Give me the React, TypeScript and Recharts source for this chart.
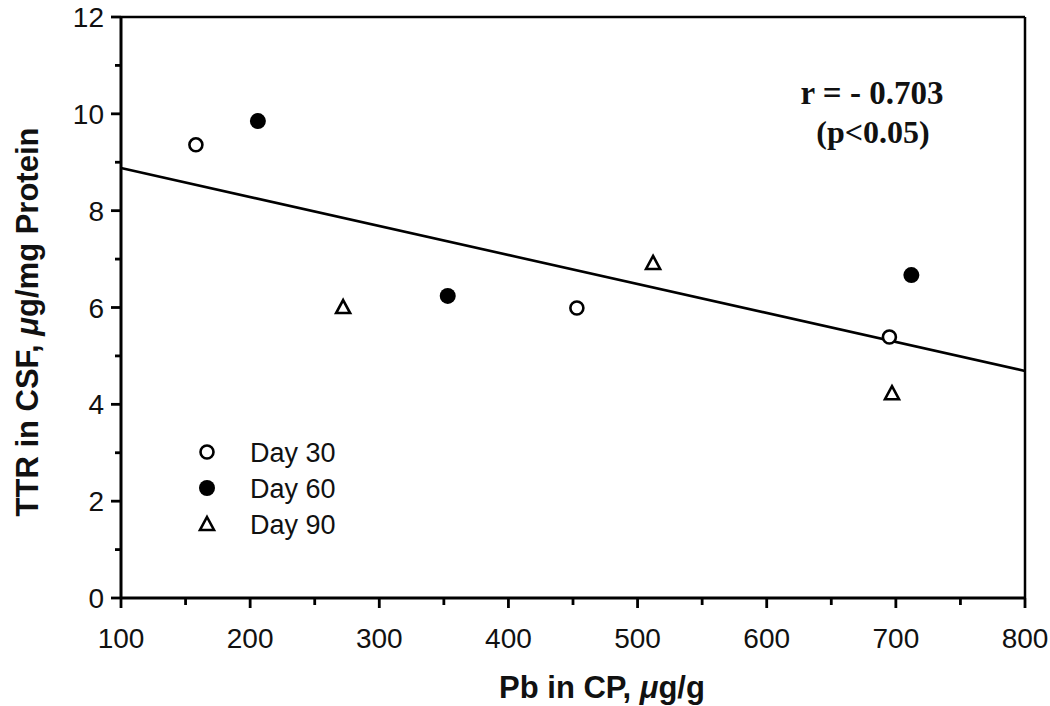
import { ScatterChart, Scatter, XAxis, YAxis, ReferenceLine, Customized } from 'recharts';

// values
const day30 = [
  { x: 158, y: 9.36 },
  { x: 453, y: 5.99 },
  { x: 695, y: 5.39 },
];
const day60 = [
  { x: 206, y: 9.85 },
  { x: 353, y: 6.24 },
  { x: 712, y: 6.67 },
];
const day90 = [
  { x: 272, y: 6.01 },
  { x: 512, y: 6.92 },
  { x: 697, y: 4.23 },
];
const fitLine = [
  { x: 100, y: 8.88 },
  { x: 800, y: 4.69 },
];
const xTicks = [100, 150, 200, 250, 300, 350, 400, 450, 500, 550, 600, 650, 700, 750, 800];
const yTicks = [0, 1, 2, 3, 4, 5, 6, 7, 8, 9, 10, 11, 12];
const legendItems = ['Day 30', 'Day 60', 'Day 90'];

const SANS = '"Liberation Sans", Arial, sans-serif';
const SERIF = '"Liberation Serif", "Times New Roman", serif';

const OpenCircle = ({ cx, cy }: any) => (
  <circle cx={cx} cy={cy} r={6.5} fill="#fff" stroke="#000" strokeWidth={2.6} />
);
const FilledCircle = ({ cx, cy }: any) => <circle cx={cx} cy={cy} r={8} fill="#000" />;
const Triangle = ({ cx, cy }: any) => (
  <path
    d={`M${cx},${cy - 7} L${cx + 7},${cy + 6} L${cx - 7},${cy + 6} Z`}
    fill="#fff"
    stroke="#000"
    strokeWidth={2.6}
    strokeLinejoin="miter"
  />
);
const shapes = [OpenCircle, FilledCircle, Triangle];

const XTick = ({ x, y, payload }: any) => {
  const major = payload.value % 100 === 0;
  return (
    <g>
      <line x1={x} y1={y} x2={x} y2={y + (major ? 10 : 7)} stroke="#000" strokeWidth={2.8} />
      {major && (
        <text x={x} y={y + 50} textAnchor="middle" fontSize={28} fontFamily={SANS} fill="#111">
          {payload.value}
        </text>
      )}
    </g>
  );
};

const YTick = ({ x, y, payload }: any) => {
  const major = payload.value % 2 === 0;
  return (
    <g>
      <line x1={x} y1={y} x2={x - (major ? 10 : 6)} y2={y} stroke="#000" strokeWidth={2.8} />
      {major && (
        <text x={x - 17} y={y + 10} textAnchor="end" fontSize={28} fontFamily={SANS} fill="#111">
          {payload.value}
        </text>
      )}
    </g>
  );
};

const Extras = () => (
  <g>
    <text x={872} y={104} textAnchor="middle" fontSize={33} fontWeight="bold" fontFamily={SERIF} fill="#111">
      r = - 0.703
    </text>
    <text x={873} y={143} textAnchor="middle" fontSize={32} fontWeight="bold" fontFamily={SERIF} fill="#111">
      (p&lt;0.05)
    </text>
    {legendItems.map((name, i) => {
      const Shape = shapes[i];
      const cy = 452 + i * 36;
      return (
        <g key={name}>
          <Shape cx={207} cy={cy} />
          <text x={250} y={cy + 10} fontSize={27} fontFamily={SANS} fill="#111">
            {name}
          </text>
        </g>
      );
    })}
    <text x={602} y={698} textAnchor="middle" fontSize={31} fontWeight="bold" fontFamily={SANS} fill="#111">
      Pb in CP, <tspan fontStyle="italic">μ</tspan>g/g
    </text>
    <text
      x={38}
      y={322}
      transform="rotate(-90 38 322)"
      textAnchor="middle"
      fontSize={31}
      fontWeight="bold"
      fontFamily={SANS}
      fill="#111"
    >
      TTR in CSF, <tspan fontStyle="italic">μ</tspan>g/mg Protein
    </text>
  </g>
);

export default function App() {
  return (
    <div style={{ position: 'absolute', left: 0, top: 0, width: 1050, height: 706, background: '#fff' }}>
      <ScatterChart width={1050} height={706} margin={{ top: 17, right: 25, bottom: 0, left: 0 }}>
        <XAxis
          type="number"
          dataKey="x"
          domain={[100, 800]}
          ticks={xTicks}
          interval={0}
          height={108}
          tickLine={false}
          tickSize={0}
          tickMargin={0}
          tick={<XTick />}
          axisLine={{ stroke: '#000', strokeWidth: 3 }}
          allowDataOverflow
        />
        <YAxis
          type="number"
          dataKey="y"
          domain={[0, 12]}
          ticks={yTicks}
          interval={0}
          width={121}
          tickLine={false}
          tickSize={0}
          tickMargin={0}
          tick={<YTick />}
          axisLine={{ stroke: '#000', strokeWidth: 3 }}
          allowDataOverflow
        />
        <ReferenceLine y={12} stroke="#000" strokeWidth={2.5} />
        <ReferenceLine x={800} stroke="#000" strokeWidth={2.5} />
        <ReferenceLine segment={fitLine} stroke="#000" strokeWidth={2.6} />
        <Scatter name="Day 30" data={day30} shape={<OpenCircle />} isAnimationActive={false} />
        <Scatter name="Day 60" data={day60} shape={<FilledCircle />} isAnimationActive={false} />
        <Scatter name="Day 90" data={day90} shape={<Triangle />} isAnimationActive={false} />
        <Customized component={<Extras />} />
      </ScatterChart>
    </div>
  );
}
